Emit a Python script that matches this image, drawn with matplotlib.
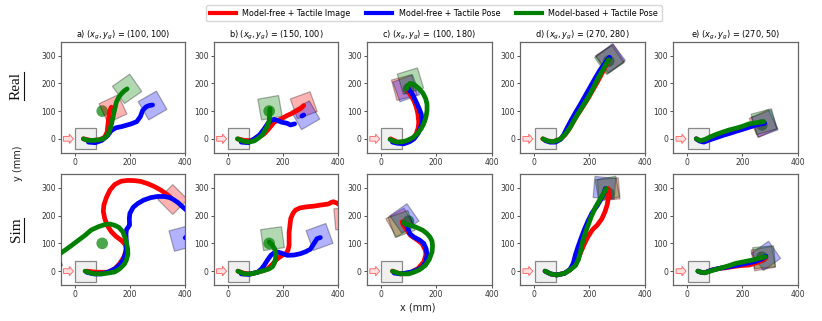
import numpy as np
import matplotlib
matplotlib.use("Agg")
import matplotlib.pyplot as plt
from matplotlib.patches import Rectangle, Circle, FancyArrow
from matplotlib.lines import Line2D

nan = np.nan

# ---------------- data ----------------
methods = ["Model-free + Tactile Image", "Model-free + Tactile Pose", "Model-based + Tactile Pose"]
method_colors = ["red", "blue", "green"]
panel_letters = ["a", "b", "c", "d", "e"]
goals_x = [100, 150, 100, 270, 270]
goals_y = [100, 100, 180, 280, 50]
row_labels = ["Real", "Sim"]

# ---- Real row ----
real_a_mfi_x = [32, 60, 90, 109, 118, 121, 124, 127, 133]
real_a_mfi_y = [0, -6, -4, 6, 25, 54, 80, 100, 114]
real_a_mfp_x = [50, 75, 98, 118, 133, 150, 170, 205, 225, 238, 246, 258, 270, 282]
real_a_mfp_y = [-12, -14, -6, 10, 30, 40, 44, 54, 62, 80, 102, 115, 120, 122]
real_a_mbp_x = [32, 45, 62, 85, 104, 118, 127, 134, 139, 145, 151, 160, 169, 180, 190]
real_a_mbp_y = [0, -5, -6, -4, 0, 12, 30, 55, 78, 105, 132, 150, 162, 173, 180]

real_b_mfi_x = [37, 60, 84, 110, 132, 150, 168, 190, 215, 235, 251, 265, 275]
real_b_mfi_y = [0, -6, -6, 4, 18, 38, 60, 70, 84, 93, 102, 110, 120]
real_b_mfp_x = [49, 75, 96, 115, 132, 145, 156, 168, 180, 195, 215, 227, 242, nan, 268, 275]
real_b_mfp_y = [-12, -14, 0, 14, 36, 55, 66, 70, 66, 60, 56, 50, 54, nan, 82, 86]
real_b_mbp_x = [35, 55, 73, 95, 108, 125, 138, 146, 150, 152, 153]
real_b_mbp_y = [0, -8, -12, -8, 0, 14, 36, 52, 66, 90, 108]

real_c_mfi_x = [35, 60, 95, 118, 128, 135, 137, 134, 128, 119, 105, 95]
real_c_mfi_y = [0, -12, -12, 0, 18, 40, 60, 90, 115, 138, 162, 180]
real_c_mfp_x = [42, 60, 83, 105, 120, 135, 145, 149, 146, 138, 131, 122, 113, 103, 95]
real_c_mfp_y = [-12, -16, -18, -10, 0, 20, 45, 70, 90, 110, 126, 145, 162, 175, 186]
real_c_mbp_x = [33, 45, 60, 80, 95, 115, 131, 145, 155, 163, 167, 167, 162, 152, 137, 120, 106, 97, 93]
real_c_mbp_y = [-2, -8, -12, -10, -6, 4, 18, 35, 54, 78, 102, 125, 145, 165, 182, 196, 200, 192, 180]

real_d_mfi_x = [32, 50, 70, 94, 110, 125, 140, 158, 178, 198, 215, 232, 248, 262, 272]
real_d_mfi_y = [0, -8, -10, -2, 12, 32, 58, 88, 118, 150, 180, 210, 240, 268, 290]
real_d_mfp_x = [40, 58, 78, 96, 108, 120, 135, 152, 170, 188, 205, 222, 240, 256, 273]
real_d_mfp_y = [-6, -12, -12, -2, 16, 40, 68, 98, 128, 160, 190, 220, 250, 272, 294]
real_d_mbp_x = [32, 50, 70, 94, 114, 130, 148, 165, 185, 203, 220, 235, 250, 262, 270]
real_d_mbp_y = [0, -8, -10, -2, 18, 40, 72, 100, 132, 162, 195, 225, 250, 272, 285]

real_e_mfi_x = [33, 45, 60, 81, 105, 128, 155, 180, 200, 225, 250, 277]
real_e_mfi_y = [0, -6, -10, -2, 6, 14, 22, 30, 36, 44, 50, 56]
real_e_mfp_x = [33, 45, 60, 81, 105, 128, 155, 180, 200, 225, 250, 280]
real_e_mfp_y = [0, -8, -12, -4, 4, 12, 20, 28, 34, 42, 50, 56]
real_e_mbp_x = [33, 40, 51, 65, 81, 105, 128, 152, 176, 200, 224, 250, 277]
real_e_mbp_y = [0, -4, -6, -2, 6, 16, 24, 32, 38, 45, 54, 58, 62]

# ---- Sim row ----
sim_a_mfi_x = [44, 80, 121, 145, 163, 178, 187, 184, 169, 150, 133, 118, 109, 104, 106, 115, 128, 145, 168, 193, 218, 240, 265, 288, 312, 336, 350]
sim_a_mfi_y = [0, -4, -4, 8, 27, 50, 75, 95, 111, 125, 142, 165, 190, 215, 238, 265, 292, 312, 324, 327, 326, 323, 315, 305, 292, 275, 262]
sim_a_mfp_x = [44, 70, 98, 125, 145, 163, 175, 183, 187, 187, 186, 188, 195, 199, 198, 200, 212, 229, 250, 276, 300, 324, 345, 359, 375, 389, 410, 425, 425, 400]
sim_a_mfp_y = [-4, -10, -10, -2, 8, 22, 39, 60, 81, 110, 136, 150, 160, 166, 190, 208, 230, 244, 256, 265, 269, 269, 265, 257, 246, 233, 215, 180, 140, 120]
sim_a_mbp_x = [38, 55, 74, 100, 121, 145, 163, 180, 187, 193, 192, 186, 175, 160, 145, 128, 110, 86, 60, 38, 15, -10, -35, -60]
sim_a_mbp_y = [0, -6, -10, -10, -7, -3, 8, 25, 39, 60, 81, 110, 141, 158, 165, 170, 168, 160, 148, 129, 112, 93, 75, 58]

sim_b_mfi_x = [37, 60, 84, 108, 130, 144, 162, 180, 196, 210, 218, 222, 222, 222, 225, 228, 236, 245, 262, 287, 310, 335, 350, 364, 375, 382, 395, 420, 425]
sim_b_mfi_y = [0, -8, -10, -4, 2, 8, 25, 45, 56, 63, 75, 93, 115, 139, 165, 190, 208, 220, 228, 232, 234, 238, 240, 242, 248, 250, 245, 230, 195]
sim_b_mfp_x = [49, 75, 108, 122, 132, 144, 156, 168, 180, 197, 215, 240, 263, 282, 299, 312, 323, 335]
sim_b_mfp_y = [-10, -12, -4, 8, 21, 40, 57, 66, 69, 64, 57, 58, 63, 70, 79, 100, 117, 121]
sim_b_mbp_x = [37, 50, 61, 85, 108, 130, 150, 162, 168, 173, 174, 170, 162, 150]
sim_b_mbp_y = [0, -6, -10, -10, -4, 2, 8, 16, 27, 45, 63, 80, 93, 105]

sim_c_mfi_x = [42, 71, 107, 135, 155, 163, 161, 149, 128, 107, 89, 80, 77]
sim_c_mfi_y = [0, -10, -6, 10, 33, 60, 75, 99, 115, 129, 155, 168, 178]
sim_c_mfp_x = [48, 71, 107, 130, 149, 162, 167, 164, 155, 140, 119, 105, 101, 93, 83]
sim_c_mfp_y = [-7, -10, -4, 4, 14, 33, 57, 80, 100, 112, 123, 135, 145, 165, 175]
sim_c_mbp_x = [42, 60, 80, 100, 119, 140, 161, 175, 185, 187, 185, 178, 167, 152, 137, 118, 101, 88, 82]
sim_c_mbp_y = [0, -7, -10, -10, -4, 5, 21, 42, 69, 90, 108, 122, 135, 147, 154, 162, 166, 170, 176]

sim_d_mfi_x = [40, 60, 82, 110, 130, 148, 160, 170, 182, 195, 212, 228, 245, 257, 265, 270, 268]
sim_d_mfi_y = [0, -10, -14, -8, 4, 22, 45, 70, 98, 124, 150, 165, 188, 215, 240, 270, 298]
sim_d_mfp_x = [40, 60, 82, 110, 130, 142, 150, 160, 170, 182, 195, 210, 228, 240, 252, 258]
sim_d_mfp_y = [0, -10, -14, -8, 6, 28, 60, 90, 118, 150, 180, 210, 235, 255, 280, 298]
sim_d_mbp_x = [40, 60, 82, 110, 130, 150, 160, 168, 177, 190, 207, 222, 237, 250, 261]
sim_d_mbp_y = [0, -10, -14, -8, 4, 20, 40, 70, 112, 150, 196, 230, 256, 278, 298]

sim_e_mfi_x = [39, 50, 63, 90, 117, 140, 164, 194, 224, 250, 270, 285]
sim_e_mfi_y = [0, -4, -6, 4, 10, 12, 16, 20, 22, 30, 38, 48]
sim_e_mfp_x = [39, 50, 63, 90, 117, 140, 164, 194, 224, 250, 270, 285]
sim_e_mfp_y = [0, -4, -6, 4, 10, 14, 18, 24, 30, 36, 44, 54]
sim_e_mbp_x = [39, 50, 63, 90, 117, 146, 176, 206, 236, 260, 283]
sim_e_mbp_y = [0, -4, -6, 2, 10, 18, 28, 34, 40, 46, 52]

# final object poses (centre x, centre y, angle deg) per panel, per method
real_final_mfi = [(139, 108, 25), (275, 121, 20), (85, 185, 15), (275, 288, 33), (275, 55, 25)]
real_final_mfp = [(282, 120, 30), (281, 85, 30), (92, 182, 20), (277, 290, 37), (280, 55, 20)]
real_final_mbp = [(190, 180, 35), (153, 112, 10), (107, 208, 17), (272, 284, 35), (278, 62, 15)]
sim_final_mfi = [(355, 258, 45), (425, 190, 5), (70, 175, 30), (270, 295, 5), (275, 45, 10)]
sim_final_mfp = [(388, 118, 15), (332, 123, 20), (85, 190, 35), (255, 300, -5), (285, 55, 35)]
sim_final_mbp = [(-95, 35, 30), (162, 117, 8), (75, 170, 20), (265, 298, 10), (278, 50, 5)]

# ---------------- figure ----------------
real_traj = [
    [(real_a_mfi_x, real_a_mfi_y), (real_a_mfp_x, real_a_mfp_y), (real_a_mbp_x, real_a_mbp_y)],
    [(real_b_mfi_x, real_b_mfi_y), (real_b_mfp_x, real_b_mfp_y), (real_b_mbp_x, real_b_mbp_y)],
    [(real_c_mfi_x, real_c_mfi_y), (real_c_mfp_x, real_c_mfp_y), (real_c_mbp_x, real_c_mbp_y)],
    [(real_d_mfi_x, real_d_mfi_y), (real_d_mfp_x, real_d_mfp_y), (real_d_mbp_x, real_d_mbp_y)],
    [(real_e_mfi_x, real_e_mfi_y), (real_e_mfp_x, real_e_mfp_y), (real_e_mbp_x, real_e_mbp_y)],
]
sim_traj = [
    [(sim_a_mfi_x, sim_a_mfi_y), (sim_a_mfp_x, sim_a_mfp_y), (sim_a_mbp_x, sim_a_mbp_y)],
    [(sim_b_mfi_x, sim_b_mfi_y), (sim_b_mfp_x, sim_b_mfp_y), (sim_b_mbp_x, sim_b_mbp_y)],
    [(sim_c_mfi_x, sim_c_mfi_y), (sim_c_mfp_x, sim_c_mfp_y), (sim_c_mbp_x, sim_c_mbp_y)],
    [(sim_d_mfi_x, sim_d_mfi_y), (sim_d_mfp_x, sim_d_mfp_y), (sim_d_mbp_x, sim_d_mbp_y)],
    [(sim_e_mfi_x, sim_e_mfi_y), (sim_e_mfp_x, sim_e_mfp_y), (sim_e_mbp_x, sim_e_mbp_y)],
]
real_finals = [real_final_mfi, real_final_mfp, real_final_mbp]
sim_finals = [sim_final_mfi, sim_final_mfp, sim_final_mbp]

W, H = 822, 321
fig = plt.figure(figsize=(W / 100, H / 100), dpi=100)

spine_col = "#666666"
tick_col = "#333333"
SQ = 76  # object side (mm)

lefts = [60.7 + i * 153.15 for i in range(5)]
ax_w = 124.5
row_tops = [41.7, 174.0]
ax_h = 111.0


def draw_panel(ax, trajs, finals, j, title=None):
    ax.set_xlim(-50, 400)
    ax.set_ylim(-50, 350)
    ax.set_xticks([0, 200, 400])
    ax.set_yticks([0, 100, 200, 300])
    ax.tick_params(labelsize=5.5, length=2.2, width=0.6, pad=1.5,
                   colors=tick_col)
    for s in ax.spines.values():
        s.set_color(spine_col)
        s.set_linewidth(0.9)
    # start object
    ax.add_patch(Rectangle((40 - SQ / 2, -SQ / 2), SQ, SQ, facecolor="#f0f0f0",
                           edgecolor="#888888", lw=0.9, zorder=2))
    # push arrow
    ax.add_patch(FancyArrow(-40, 0, 36, 0, width=17, head_width=34, head_length=15,
                            length_includes_head=True, facecolor="#ffe0e0",
                            edgecolor="#ff7070", lw=0.7, zorder=2))
    # goal
    ax.add_patch(Circle((goals_x[j], goals_y[j]), 21, facecolor="green", alpha=0.7,
                        edgecolor="none", zorder=3))
    # final object poses
    for k in range(3):
        cx, cy, ang = finals[k][j]
        ax.add_patch(Rectangle((cx - SQ / 2, cy - SQ / 2), SQ, SQ, angle=ang,
                               rotation_point="center", facecolor=method_colors[k],
                               edgecolor="black", lw=0.9, alpha=0.3, zorder=3))
    # trajectories
    for k in range(3):
        xs, ys = trajs[j][k]
        ax.plot(xs, ys, color=method_colors[k], lw=3.4, solid_capstyle="round",
                solid_joinstyle="round", zorder=4 + k)
    if title:
        ax.set_title(title, fontsize=5.9, pad=3)


for j in range(5):
    ax = fig.add_axes([lefts[j] / W, 1 - (row_tops[0] + ax_h) / H, ax_w / W, ax_h / H])
    title = rf"{panel_letters[j]}) $(x_g, y_g)$ = ({goals_x[j]}, {goals_y[j]})"
    draw_panel(ax, real_traj, real_finals, j, title)
    ax2 = fig.add_axes([lefts[j] / W, 1 - (row_tops[1] + ax_h) / H, ax_w / W, ax_h / H])
    draw_panel(ax2, sim_traj, sim_finals, j)

# row labels (serif, underlined)
row_centres = [86, 230]
for lab, yc in zip(row_labels, row_centres):
    t = fig.text(16.5 / W, 1 - yc / H, lab, rotation=90, ha="center", va="center",
                 fontsize=11, family="Liberation Serif", color="#111111")
    fig.canvas.draw()
    bb = t.get_window_extent()
    xline = bb.x1 + 1.0
    fig.add_artist(Line2D([xline / W, xline / W], [bb.y0 / H, bb.y1 / H],
                          transform=fig.transFigure, color="#111111", lw=0.8))

fig.text(18 / W, 1 - 163 / H, "y (mm)", rotation=90, ha="center", va="center",
         fontsize=7, color="#222222")
fig.text(418 / W, 1 - 307 / H, "x (mm)", ha="center", va="center", fontsize=7,
         color="#222222")

handles = [Line2D([0], [0], color=c, lw=3) for c in method_colors]
fig.legend(handles, methods, loc="upper center", bbox_to_anchor=(434 / W, 1 - 1.0 / H),
           ncol=3, fontsize=5.8, frameon=True, handlelength=3.2, columnspacing=2.0,
           borderpad=0.45, handletextpad=0.8, edgecolor="#cccccc", fancybox=True)

fig.savefig("out.png", dpi=100)
